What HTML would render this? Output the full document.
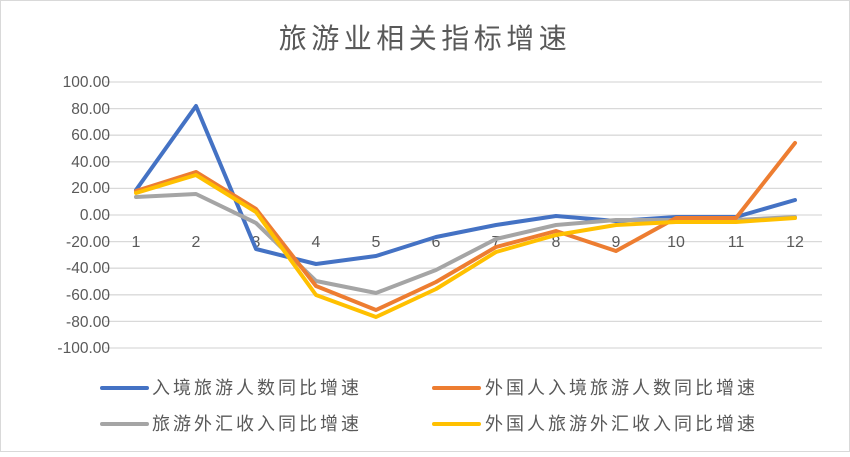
<!DOCTYPE html>
<html><head><meta charset="utf-8"><style>
body{margin:0;background:#fff}
svg text{font-family:"Liberation Sans","Noto Sans CJK SC",sans-serif;fill:#595959}
</style></head><body>
<svg width="850" height="452" xmlns="http://www.w3.org/2000/svg">
<rect x="0.5" y="0.5" width="849" height="451" fill="#fff" stroke="#d9d9d9" stroke-width="1"/>
<text x="425" y="48" font-size="28" text-anchor="middle" letter-spacing="4.5">旅游业相关指标增速</text>
<g stroke="#d9d9d9" stroke-width="1.3">
<line x1="105" x2="822" y1="82" y2="82"/><line x1="105" x2="822" y1="108.6" y2="108.6"/>
<line x1="105" x2="822" y1="135.2" y2="135.2"/><line x1="105" x2="822" y1="161.8" y2="161.8"/>
<line x1="105" x2="822" y1="188.4" y2="188.4"/><line x1="105" x2="822" y1="215" y2="215"/>
<line x1="105" x2="822" y1="241.6" y2="241.6"/><line x1="105" x2="822" y1="268.2" y2="268.2"/>
<line x1="105" x2="822" y1="294.8" y2="294.8"/><line x1="105" x2="822" y1="321.4" y2="321.4"/>
<line x1="105" x2="822" y1="348" y2="348"/>
</g>
<g font-size="15.5" text-anchor="end">
<text x="110" y="87">100.00</text><text x="110" y="114">80.00</text><text x="110" y="140">60.00</text>
<text x="110" y="167">40.00</text><text x="110" y="193">20.00</text><text x="110" y="220">0.00</text>
<text x="110" y="247">-20.00</text><text x="110" y="273">-40.00</text><text x="110" y="300">-60.00</text>
<text x="110" y="327">-80.00</text><text x="110" y="353">-100.00</text>
</g>
<g font-size="16" text-anchor="middle">
<text x="136" y="247">1</text><text x="196" y="247">2</text><text x="256" y="247">3</text><text x="316" y="247">4</text>
<text x="376" y="247">5</text><text x="436" y="247">6</text><text x="496" y="247">7</text><text x="556" y="247">8</text>
<text x="616" y="247">9</text><text x="676" y="247">10</text><text x="736" y="247">11</text><text x="795" y="247">12</text>
</g>
<g fill="none" stroke-width="4" stroke-linejoin="round" stroke-linecap="round">
<polyline stroke="#4472c4" points="136,190 196,106 256,249 316,264 376,256 436,237 496,225 556,216 616,221 676,217 736,217 795,200"/>
<polyline stroke="#a5a5a5" points="136,197 196,194 256,223 316,281 376,293 436,270 496,239 556,225 616,220 676,220 736,220 795,217"/>
<polyline stroke="#ed7d31" points="136,191 196,172 256,209 316,286 376,310 436,282 496,247 556,231 616,251 676,218 736,218 795,143"/>
<polyline stroke="#ffc000" points="136,193 196,175 256,212 316,295 376,317 436,289 496,252 556,235 616,225 676,222 736,222 795,218"/>
</g>
<g stroke-width="4" stroke-linecap="round">
<line x1="102" x2="147" y1="388" y2="388" stroke="#4472c4"/>
<line x1="434" x2="479" y1="388" y2="388" stroke="#ed7d31"/>
<line x1="102" x2="147" y1="424" y2="424" stroke="#a5a5a5"/>
<line x1="434" x2="479" y1="424" y2="424" stroke="#ffc000"/>
</g>
<g font-size="18" letter-spacing="3">
<text x="152" y="394">入境旅游人数同比增速</text>
<text x="485" y="394">外国人入境旅游人数同比增速</text>
<text x="152" y="430">旅游外汇收入同比增速</text>
<text x="485" y="430">外国人旅游外汇收入同比增速</text>
</g>
</svg>
</body></html>
